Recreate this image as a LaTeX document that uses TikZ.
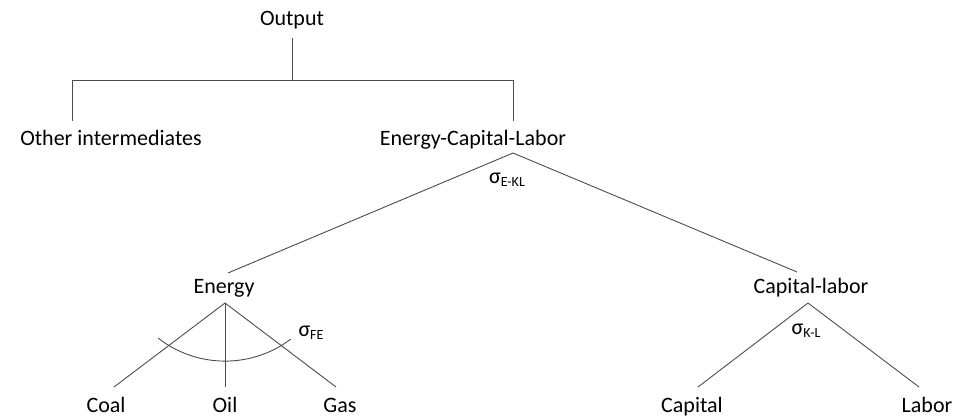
\documentclass[tikz,border=0pt]{standalone}
\usepackage{fontspec}
\setmainfont{Carlito}
\usepackage{tikz}
\usetikzlibrary{positioning}
\newcommand{\elas}[1]{σ\raisebox{-3pt}{\fontsize{14}{14}\selectfont #1}}
\begin{document}
\begin{tikzpicture}[x=1pt,y=-1pt, every node/.style={font=\fontsize{22}{26}\selectfont, inner sep=0pt}]
\tikzstyle{lbl}=[anchor=base]
\tikzstyle{branch}=[draw=black!70, line width=0.9pt]
\useasboundingbox (0,0) rectangle (961,419);
% top level
\node[lbl] (out) at (292,26) {Output};
\node[lbl] (oth) at (111,146) {Other intermediates};
\node[lbl] (ecl) at (473,146) {Energy-Capital-Labor};
\coordinate (outB) at (292,38);
\coordinate (bar) at (292,80);
\coordinate (barL) at (72,80);
\coordinate (barR) at (513,80);
\coordinate (othT) at (72,121);
\coordinate (eclT) at (513,121);
\draw[branch] (outB) -- (bar);
\draw[branch] (othT) -- (barL) -- (barR) -- (eclT);
% nests
\coordinate (eclB) at (513,153);
\node[lbl] (en) at (224,294) {Energy};
\node[lbl] (cl) at (811,294) {Capital-labor};
\coordinate (enT) at (228,273);
\coordinate (clT) at (797,272);
\draw[branch] (enT) -- (eclB) -- (clT);
\node (sekl) at (507,180) {\elas{E-KL}};
% energy inputs
\coordinate (enB) at (225,303);
\node[lbl] (coal) at (106,413) {Coal};
\node[lbl] (oil) at (225,413) {Oil};
\node[lbl] (gas) at (340,413) {Gas};
\coordinate (coalT) at (114,387);
\coordinate (oilT) at (225,387);
\coordinate (gasT) at (336,387);
\draw[branch] (coalT) -- (enB) -- (gasT);
\draw[branch] (enB) -- (oilT);
\coordinate (arcL) at (158,338);
\draw[branch] (arcL) arc[start angle=232, end angle=307, radius=109pt];
\node (sfe) at (311,333) {\elas{FE}};
% capital-labor inputs
\coordinate (clB) at (808,303);
\node[lbl] (cap) at (692,413) {Capital};
\node[lbl] (lab) at (927,413) {Labor};
\coordinate (capT) at (698,387);
\coordinate (labT) at (919,387);
\draw[branch] (capT) -- (clB) -- (labT);
\node (skl) at (806,331) {\elas{K-L}};
\end{tikzpicture}
\end{document}
